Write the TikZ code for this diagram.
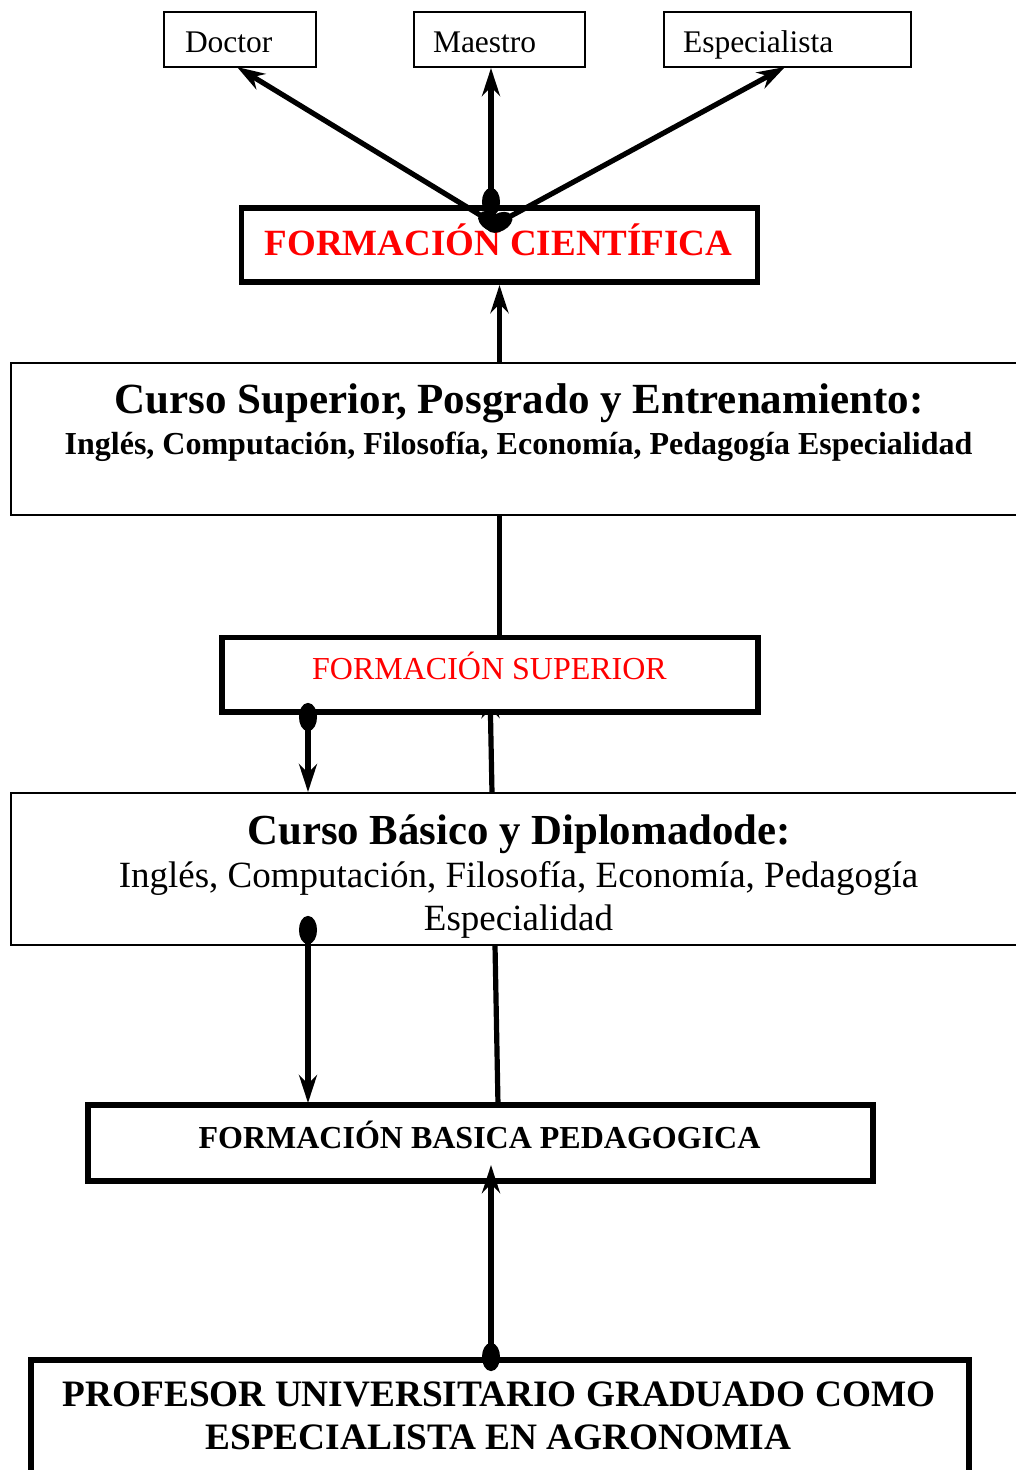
\documentclass[tikz,border=0pt]{standalone}
\usepackage{fontspec}
\setmainfont{Liberation Serif}
\usetikzlibrary{arrows.meta,calc}
\pgfdeclarelayer{bg}
\pgfsetlayers{bg,main}
\newcommand\fsz[1]{\fontsize{#1}{#1}\selectfont}
\begin{document}
\begin{tikzpicture}[x=1pt,y=-1pt,
  thinbox/.style={draw=black,line width=1.6pt,fill=white,inner sep=0pt,outer sep=0pt},
  thickbox/.style={draw=black,line width=5.5pt,fill=white,inner sep=0pt,outer sep=0pt},
  txt/.style={inner sep=0pt,outer sep=0pt,anchor=base},
  conn/.style={line width=5.2pt,draw=black},
  tipA/.style={-{Stealth[length=28pt,width=18pt,inset=9pt]}},
  tipB/.style={{Ellipse[length=28pt,width=18pt]}-{Stealth[length=28pt,width=18pt,inset=9pt]}}
]
\useasboundingbox (0,0) rectangle (1015,1470);

% boxes
\node[thinbox,minimum width=152pt,minimum height=55pt] (doctor) at (240,39.5) {};
\node[thinbox,minimum width=171pt,minimum height=55pt] (maestro) at (499.5,39.5) {};
\node[thinbox,minimum width=247pt,minimum height=55pt] (espec) at (787.5,39.5) {};
\node[thickbox,minimum width=516pt,minimum height=74pt] (fc) at (499.5,245) {};
\node[thinbox,minimum width=1029pt,minimum height=152pt] (cs) at (525.5,439) {};
\node[thickbox,minimum width=536pt,minimum height=74.5pt] (fs) at (490,674.75) {};
\node[thinbox,minimum width=1029pt,minimum height=152pt] (cb) at (525.5,869) {};
\node[thickbox,minimum width=785pt,minimum height=76pt] (fbp) at (480.5,1143) {};
\node[draw=black,line width=6.5pt,fill=white,inner sep=0pt,outer sep=0pt,minimum width=938pt,minimum height=140pt] (prof) at (500,1430) {};

% texts
\node[txt,anchor=base west,font=\fsz{31.5}] (tdoc) at (185,52) {Doctor};
\node[txt,anchor=base west,font=\fsz{31.5}] (tmae) at (433,52) {Maestro};
\node[txt,anchor=base west,font=\fsz{31.5}] (tesp) at (683,52) {Especialista};
\node[txt,font=\fsz{37}\bfseries,text=red] (tfc) at (498.5,255) {FORMACIÓN CIENTÍFICA};
\node[txt,font=\fsz{43}\bfseries] (tcs1) at (519,413) {Curso Superior, Posgrado y Entrenamiento:};
\node[txt,font=\fsz{32}\bfseries] (tcs2) at (518.5,454) {Inglés, Computación, Filosofía, Economía, Pedagogía Especialidad};
\node[txt,font=\fsz{32},text=red] (tfs) at (489.5,679) {FORMACIÓN SUPERIOR};
\node[txt,font=\fsz{42.8}\bfseries] (tcb1) at (519,844) {Curso Básico y Diplomadode:};
\node[txt,font=\fsz{37}] (tcb2) at (518.5,887) {Inglés, Computación, Filosofía, Economía, Pedagogía};
\node[txt,font=\fsz{37}] (tcb3) at (518.5,930) {Especialidad};
\node[txt,font=\fsz{32}\bfseries] (tfbp) at (479.5,1148) {FORMACIÓN BASICA PEDAGOGICA};
\node[txt,font=\fsz{37.3}\bfseries] (tpr1) at (499,1406) {PROFESOR UNIVERSITARIO GRADUADO COMO};
\node[txt,font=\fsz{37.3}\bfseries] (tpr2) at (498.5,1449) {ESPECIALISTA EN AGRONOMIA};

% named connector points
\coordinate (fcD) at ($(fc.north)+(3.5,21)$);
\coordinate (fcM) at ($(fc.north)+(-8.5,8)$);
\coordinate (fcE) at ($(fc.north)+(-12.5,21)$);
\coordinate (docIn) at ($(doctor.south)+(-3,0)$);
\coordinate (maeIn) at ($(maestro.south)+(-8.5,1)$);
\coordinate (espIn) at ($(espec.south)+(-2.5,0)$);
\coordinate (fsL) at ($(fs.south)+(-182,-9)$);
\coordinate (cbL) at ($(cb.south)+(-217.5,-29)$);
\coordinate (prM) at ($(prof.north)+(-9,11)$);

% hidden up arrow (behind formación superior)
\begin{pgfonlayer}{bg}
\draw[conn,tipA] ($(fs.south |- cb.north)+(2,0)$) -- ($(fs.south)+(0,-22)$);
\end{pgfonlayer}

% connectors
\draw[conn,tipB] (fcD) -- (docIn);
\draw[conn,tipB] (fcM) -- (maeIn);
\draw[conn,tipB] (fcE) -- (espIn);
\draw[conn,tipA] (fc.south |- cs.north) -- ($(fc.south)+(0,3)$);
\draw[conn] (fc.south |- cs.south) -- (fc.south |- fs.north);
\draw[conn,tipB] (fsL) -- ($(fsL |- cb.north)+(0,-1)$);
\draw[conn,tipB] (cbL) -- ($(cbL |- fbp.north)+(0,-2)$);
\draw[conn] ($(cb.south)+(-30.5,0)$) -- ($(fbp.north)+(17.5,0)$);
\draw[conn,tipB] (prM) -- ($(prM |- fbp.south)+(0,-16)$);
\end{tikzpicture}
\end{document}
